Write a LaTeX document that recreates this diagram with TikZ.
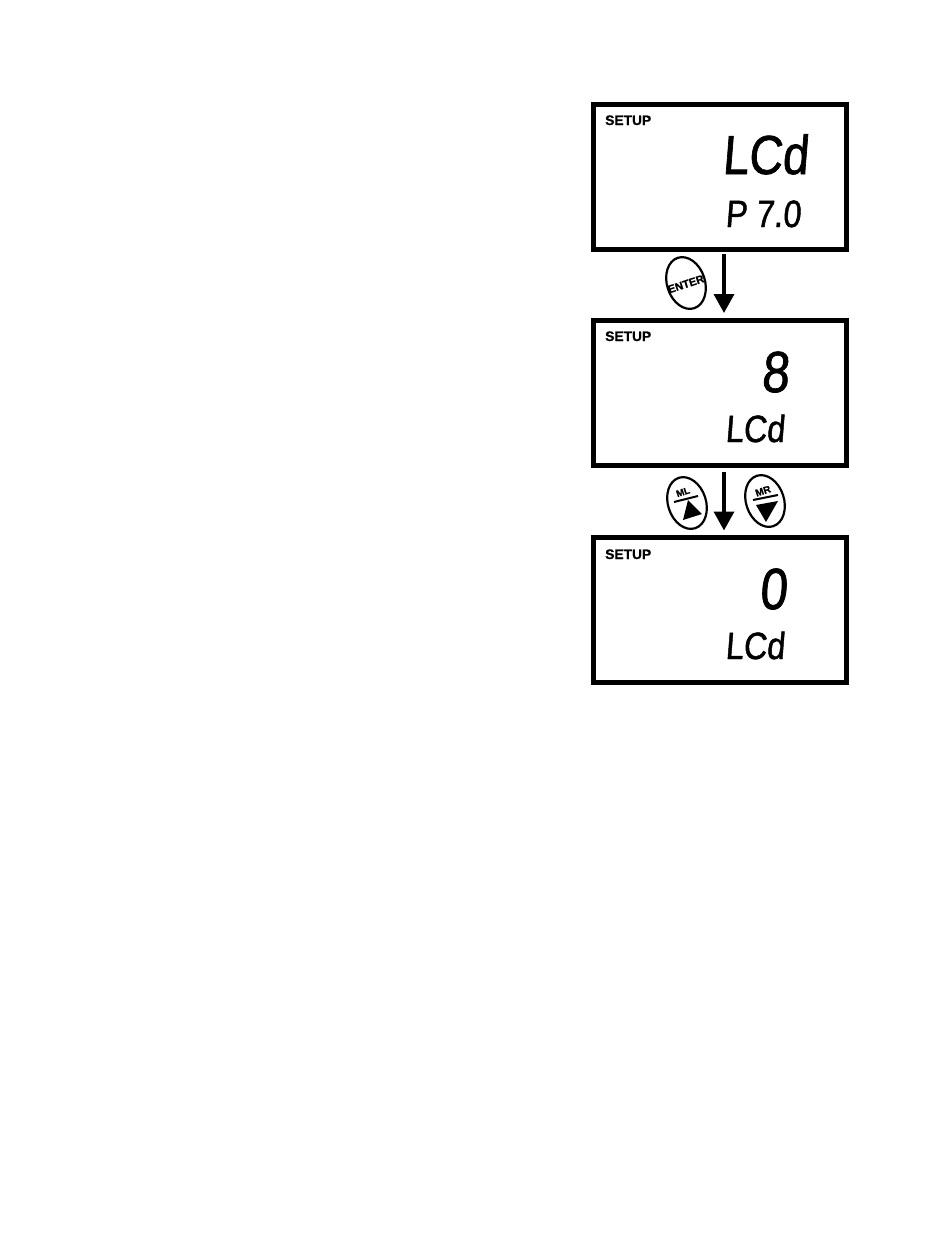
\documentclass[tikz,border=0pt]{standalone}
\usepackage{fontspec}
\usetikzlibrary{arrows.meta,shapes.geometric}
\setmainfont[BoldFeatures={FakeBold=0.9}]{Liberation Sans}
\newfontfamily\lcdfont[FakeSlant=0.08,FakeStretch=0.85,FakeBold=1.2]{Liberation Sans}
\tikzset{
  screen/.style={draw, line width=5pt, rectangle, minimum width=253pt, minimum height=145pt},
  setup/.style={anchor=base west, inner sep=0pt, font=\fontsize{13.8}{14}\selectfont\bfseries},
  lcdbig/.style={anchor=base west, inner sep=0pt, font=\fontsize{55}{55}\lcdfont},
  lcddigit/.style={anchor=base west, inner sep=0pt, font=\fontsize{58}{58}\lcdfont},
  lcdsmall/.style={anchor=base west, inner sep=0pt, font=\fontsize{38}{38}\lcdfont},
  key/.style={draw, ellipse, line width=2.2pt, rotate=18, minimum width=38pt, minimum height=53pt, inner sep=0pt},
  keytext/.style={inner sep=0pt, rotate=18},
  flow/.style={line width=3.5pt, -{Triangle[width=20pt,length=19pt]}}
}
\begin{document}
\begin{tikzpicture}[x=1pt,y=-1pt]
\useasboundingbox (0,0) rectangle (950,1254);

% Ecrans
\node[screen] (scrA) at (720,177) {};
\node[screen] (scrB) at (720,392.5) {};
\node[screen] (scrC) at (720,610) {};

% Textes
\node[setup] (setA) at (605,125) {SETUP};
\node[setup] (setB) at (605,341) {SETUP};
\node[setup] (setC) at (605,559) {SETUP};
\node[lcdbig] (lcdA) at (722,174) {LCd};
\node[lcdsmall] (phA) at (725,227) {P 7.0};
\node[lcddigit] (digB) at (761,392) {8};
\node[lcdsmall] (lcdB) at (725,442) {LCd};
\node[lcddigit] (digC) at (759,609) {0};
\node[lcdsmall] (lcdC) at (725,659) {LCd};

% Boutons
\node[key] (enter) at (686,283) {};
\node[keytext, font=\fontsize{11}{11}\selectfont\bfseries] (enterT) at (686,284) {ENTER};
\node[key] (ml) at (687,503) {};
\node[key] (mr) at (765,501) {};
\node[keytext, font=\fontsize{9.5}{10}\selectfont\bfseries] (mlT) at (683,492) {ML};
\node[keytext, font=\fontsize{10}{10}\selectfont\bfseries] (mrT) at (763,491) {MR};
\draw[line width=2pt] (674,502) -- (698,496);
\draw[line width=2pt] (753,500) -- (778,495);
\fill (688,500) -- (702,514) -- (683,520) -- cycle;
\fill (756,505) -- (778,501) -- (766,522) -- cycle;

% Fleches
\draw[flow, shorten <=2pt, shorten >=4.5pt] ([xshift=4pt]scrA.south) -- ([xshift=4pt]scrB.north);
\draw[flow, shorten <=4pt, shorten >=4.5pt] ([xshift=4pt]scrB.south) -- ([xshift=4pt]scrC.north);

\end{tikzpicture}
\end{document}
